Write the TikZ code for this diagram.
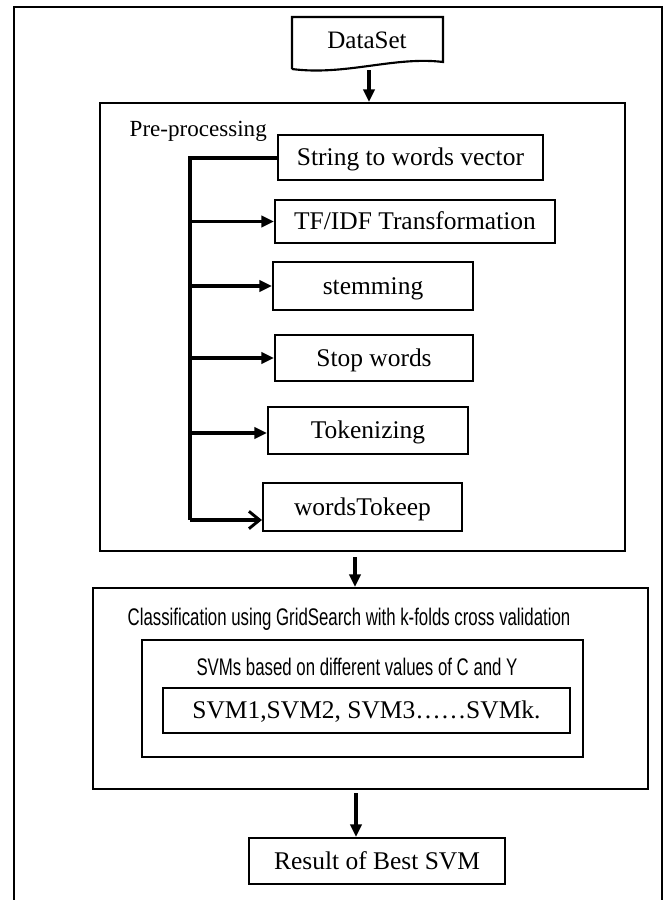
\documentclass[tikz,border=0pt]{standalone}
\usepackage{fontspec}
\setmainfont{Liberation Serif}
\newfontfamily\condfont[FakeStretch=0.70]{Liberation Sans}
\usetikzlibrary{arrows.meta,fit}
\begin{document}
\begin{tikzpicture}[x=0.75pt,y=-0.75pt,
  box/.style={draw,line width=1.6pt,inner sep=0pt},
  boxtxt/.style={font=\fontsize{19.1pt}{22pt}\selectfont,text height=12.6pt,text depth=0pt,inner sep=0pt},
  frame/.style={draw,line width=1.6pt,inner sep=0pt},
  bus/.style={line width=2.5pt},
  arr/.style={line width=2.4pt,-{Triangle[length=9.5pt,width=8.5pt]}},
  openarr/.style={line width=2.4pt,-{Straight Barb[length=8pt,width=13pt,line width=2.2pt]}},
  cond/.style={font=\condfont\fontsize{18pt}{21pt}\selectfont,text height=12.9pt,text depth=0pt,inner sep=0pt}]
\useasboundingbox (0,0) rectangle (667,900);
\fill[white] (0,0) rectangle (667,900);

% outer page frame (open at the bottom)
\draw[line width=1.3pt] (14,905) -- (14,7) -- (662,7) -- (662,905);

% input document
\draw[line width=1.6pt] (292,69) -- (292,17) -- (443,17) -- (443,62)
  .. controls (395,56) and (345,76) .. (292,69);
\node[boxtxt,font=\fontsize{18.8pt}{22pt}\selectfont,text height=12.4pt] (data) at (367,40) {DataSet};
\coordinate (dout) at (369,70);

% pre-processing stage
\node[frame,fit={(100,103) (625,551)}] (pre) {};
\node[anchor=west,font=\fontsize{17.3pt}{20pt}\selectfont] (prelbl) at (125,131) {Pre-processing};

\node[box,fit={(278,135) (543,180)},label={[boxtxt]center:String to words vector}] (s1) {};
\node[box,fit={(275,200) (555,243)},label={[boxtxt]center:TF/IDF Transformation}] (s2) {};
\node[box,fit={(273,262) (473,310)},label={[boxtxt]center:stemming}] (s3) {};
\node[box,fit={(275,335) (473,381)},label={[boxtxt]center:Stop words}] (s4) {};
\node[box,fit={(268,407) (468,454)},label={[boxtxt]center:Tokenizing}] (s5) {};
\node[box,fit={(263,483) (462,531)},label={[boxtxt]center:wordsTokeep}] (s6) {};

\coordinate (btop) at (190,158);
\coordinate (bbot) at (190,520);
\draw[bus] (s1.west |- btop) -- (btop) -- (bbot);
\draw[arr] (btop |- s2.west) -- (s2.west);
\draw[arr] (btop |- s3.west) -- (s3.west);
\draw[arr] (btop |- s4.west) -- (s4.west);
\draw[arr] (190,433) -- (s5.west |- 0,433);
\draw[openarr] (bbot) -- (bbot -| s6.west);

% classification stage
\node[frame,fit={(93,588) (648,789)}] (cls) {};
\node[cond] (clslbl) at (349,617) {Classification using GridSearch with k-folds cross validation};
\node[frame,fit={(142,640) (583,757)}] (svms) {};
\node[cond] (svmslbl) at (357,667) {SVMs based on different values of C and Y};
\node[box,fit={(163,688) (570,733)},label={[boxtxt]center:SVM1,SVM2, SVM3\ldots\ldots SVMk.}] (svmk) {};

% result
\node[box,fit={(249,838) (505,884)},label={[boxtxt]center:Result of Best SVM}] (res) {};

% stage connectors
\draw[arr] (dout) -- (dout |- pre.north);
\coordinate (pout) at (355,557);
\draw[arr] (pout) -- (pout |- cls.north);
\coordinate (cout) at (356,793);
\draw[arr] (cout) -- (cout |- res.north);
\end{tikzpicture}
\end{document}
